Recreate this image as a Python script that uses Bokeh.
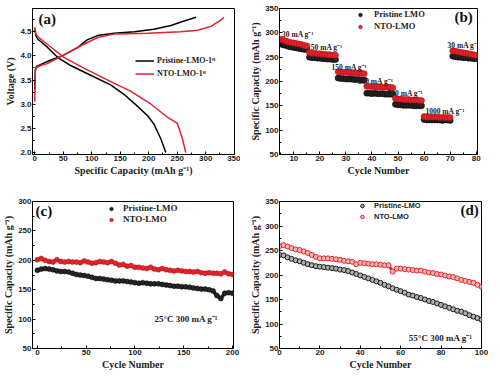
from bokeh.plotting import figure
from bokeh.layouts import column, row
from bokeh.models import (FixedTicker, PrintfTickFormatter, Legend, LegendItem,
                          Label, Range1d)
from bokeh.embed import file_html
from bokeh.resources import INLINE

# ---------------- data ----------------
# (a) first charge / discharge curves
a_pris_chg_cap = [0, 1, 3, 10, 25, 50, 75, 92, 110, 139, 175, 209, 239, 262, 283]
a_pris_chg_v = [3.3, 3.72, 3.78, 3.82, 3.9, 4.01, 4.17, 4.33, 4.42, 4.47, 4.5, 4.55, 4.63, 4.72, 4.8]
a_nto_chg_cap = [0, 1, 3, 10, 22, 51, 81, 110, 139, 198, 256, 286, 309, 324, 332]
a_nto_chg_v = [3.05, 3.7, 3.76, 3.8, 3.84, 4.02, 4.21, 4.38, 4.45, 4.47, 4.5, 4.53, 4.61, 4.72, 4.8]
a_pris_dis_cap = [0, 2, 5, 22, 40, 63, 98, 133, 157, 180, 198, 209, 221, 230]
a_pris_dis_v = [4.55, 4.42, 4.35, 4.18, 3.97, 3.8, 3.6, 3.4, 3.2, 2.96, 2.76, 2.59, 2.29, 2.0]
a_nto_dis_cap = [0, 2, 5, 22, 51, 87, 128, 168, 204, 233, 250, 259, 265]
a_nto_dis_v = [4.6, 4.45, 4.4, 4.24, 3.97, 3.74, 3.5, 3.27, 3.0, 2.73, 2.61, 2.29, 2.0]

# (b) rate capability
b_cycles = list(range(5, 81))
b_pris = [277, 275, 274, 272, 271, 270, 269, 268, 267, 266, 266,
          250, 249, 249, 248, 248, 247, 247, 246, 246, 245, 245,
          207, 206, 206, 205, 205, 205, 204, 204, 204, 203, 203,
          176, 176, 175, 176, 175, 175, 175, 174, 174, 174, 174,
          153, 152, 152, 151, 151, 151, 151, 150, 150, 150, 150,
          122, 121, 121, 121, 121, 121, 121, 120, 121, 121, 120,
          252, 251, 250, 250, 249, 249, 248, 248, 247, 247]
b_nto = [287, 285, 283, 281, 280, 279, 278, 277, 276, 274, 273,
         259, 258, 258, 257, 257, 256, 256, 255, 255, 254, 254,
         220, 219, 219, 219, 218, 218, 218, 217, 217, 217, 216,
         190, 190, 189, 189, 189, 189, 188, 188, 188, 188, 187,
         165, 164, 164, 163, 163, 163, 162, 162, 162, 161, 161,
         128, 127, 127, 127, 127, 127, 126, 126, 126, 126, 126,
         263, 262, 261, 260, 259, 258, 257, 256, 255, 254]
b_rate_labels = ["30 mA g\u207b\u00b9", "50 mA g\u207b\u00b9", "150 mA g\u207b\u00b9",
                 "300 mA g\u207b\u00b9", "500 mA g\u207b\u00b9", "1000 mA g\u207b\u00b9",
                 "30 mA g\u207b\u00b9"]
b_rate_x = [5.5, 16.5, 24.5, 34.5, 46, 60.5, 69]
b_rate_y = [296, 270, 229, 199, 176, 139, 273]

# (c) cycling at 25 C
c_cycles = list(range(0, 201, 4))
c_pris = [183, 185, 186, 185, 184, 182, 181, 181, 180, 178, 176, 175, 174, 173, 171, 169,
          169, 168, 167, 166, 165, 165, 165, 164, 163, 162, 161, 162, 161, 160, 160, 160,
          159, 158, 157, 156, 156, 155, 155, 154, 153, 152, 151, 151, 150, 148, 140, 135,
          144, 145, 144]
c_nto = [201, 203, 200, 198, 197, 201, 198, 197, 198, 197, 197, 196, 199, 197, 195, 196,
         198, 197, 196, 198, 195, 192, 193, 190, 191, 188, 188, 187, 186, 188, 185, 184,
         186, 184, 183, 182, 183, 182, 181, 181, 180, 181, 179, 178, 179, 178, 178, 177,
         180, 177, 176]

# (d) cycling at elevated temperature
d_cycles = list(range(0, 101, 2))
d_pris = [241, 240, 236, 233, 230, 228, 225, 222, 220, 218, 217, 216, 215, 214, 213, 211,
          210, 208, 205, 202, 199, 196, 193, 190, 187, 184, 180, 177, 173, 170, 167, 164,
          160, 158, 155, 153, 150, 147, 145, 142, 139, 136, 133, 130, 127, 125, 122, 118,
          115, 112, 109]
d_nto = [259, 261, 258, 255, 252, 251, 248, 245, 241, 237, 234, 234, 234, 233, 232, 231,
         229, 228, 227, 222, 225, 224, 223, 222, 222, 221, 220, 220, 207, 213, 213, 212,
         211, 210, 209, 209, 207, 205, 204, 202, 201, 199, 197, 196, 193, 190, 188, 186,
         184, 180, 176]

SERIF = "Liberation Serif"
SANS = "Liberation Sans"
RED = "#e3232b"
CAP_LABEL = "Specific Capacity (mAh g\u207b\u00b9)"


def make_fig(w, h, xr, yr, bl, br, bt, bb, xt, xm, yt, ym, xlabel, ylabel, yfmt=None):
    p = figure(width=w, height=h, x_range=Range1d(*xr), y_range=Range1d(*yr),
               output_backend="svg", toolbar_location=None,
               min_border_left=bl, min_border_right=br,
               min_border_top=bt, min_border_bottom=bb)
    p.outline_line_color = "black"
    p.outline_line_alpha = 1
    p.outline_line_width = 1
    p.xgrid.visible = False
    p.ygrid.visible = False
    p.background_fill_color = "white"
    p.border_fill_color = "white"
    for ax, t, m, lab in ((p.xaxis[0], xt, xm, xlabel), (p.yaxis[0], yt, ym, ylabel)):
        ax.ticker = FixedTicker(ticks=t, minor_ticks=m)
        ax.axis_label = lab
        ax.axis_label_text_font = SERIF
        ax.axis_label_text_font_style = "bold"
        ax.axis_label_text_font_size = "10px"
        ax.axis_label_text_color = "#222"
        ax.axis_label_standoff = 1
        ax.major_label_text_font = SANS
        ax.major_label_text_font_style = "bold"
        ax.major_label_text_font_size = "8px"
        ax.major_label_text_color = "#222"
        ax.major_label_standoff = 1
        ax.major_tick_in = 3
        ax.major_tick_out = 0
        ax.minor_tick_in = 2
        ax.minor_tick_out = 0
        ax.axis_line_color = "black"
        ax.major_tick_line_color = "black"
        ax.minor_tick_line_color = "black"
    if yfmt:
        p.yaxis[0].formatter = PrintfTickFormatter(format=yfmt)
    return p


def add_legend(p, items, loc, font, size, gw, gh, standoff, spacing):
    lg = Legend(items=items, location=loc, label_text_font=font,
                label_text_font_style="bold", label_text_font_size=size,
                label_text_color="#222", glyph_width=gw, glyph_height=gh,
                label_height=gh, label_standoff=standoff, spacing=spacing,
                padding=0, margin=0, border_line_alpha=0, background_fill_alpha=0)
    p.add_layout(lg)


def panel_tag(p, txt, x, y):
    p.add_layout(Label(x=x, y=y, x_units="screen", y_units="screen", text=txt,
                       text_font=SERIF, text_font_style="bold", text_font_size="15px",
                       text_baseline="middle", text_align="left", text_color="#111"))


# ---------------- (a) ----------------
pa = make_fig(240, 185, (-4, 350.5), (1.96, 4.98), 32, 6, 5, 31,
              [0, 50, 100, 150, 200, 250, 300, 350], [25, 75, 125, 175, 225, 275, 325],
              [2.0, 2.5, 3.0, 3.5, 4.0, 4.5], [2.25, 2.75, 3.25, 3.75, 4.25, 4.75],
              CAP_LABEL, "Voltage (V)", yfmt="%.1f")
ra1 = pa.line(a_pris_chg_cap, a_pris_chg_v, line_color="black", line_width=1.5)
pa.line(a_pris_dis_cap, a_pris_dis_v, line_color="black", line_width=1.5)
ra2 = pa.line(a_nto_chg_cap, a_nto_chg_v, line_color=RED, line_width=1.5)
pa.line(a_nto_dis_cap, a_nto_dis_v, line_color=RED, line_width=1.5)
add_legend(pa, [LegendItem(label="Pristine-LMO-1\u02e2\u1d57", renderers=[ra1]),
                LegendItem(label="NTO-LMO-1\u02e2\u1d57", renderers=[ra2])],
           (103, 76), SERIF, "8px", 19, 9, 3, 4)
panel_tag(pa, "(a)", 6, 136)

# ---------------- (b) ----------------
pb = make_fig(248, 185, (4.5, 80.5), (50, 350), 39, 11, 8, 27,
              [10, 20, 30, 40, 50, 60, 70, 80], [5, 15, 25, 35, 45, 55, 65, 75],
              [50, 100, 150, 200, 250, 300, 350], [75, 125, 175, 225, 275, 325],
              "Cycle Number", CAP_LABEL)
rb1 = pb.scatter(b_cycles, b_pris, marker="circle", size=6, fill_color="#262626",
                 line_color="#000", line_width=0.6)
rb2 = pb.scatter(b_cycles, b_nto, marker="circle", size=6, fill_color=RED,
                 line_color="#b01218", line_width=0.6)
pb.text(b_rate_x, b_rate_y, text=b_rate_labels, text_font_size="7.5px",
        text_font="Liberation Serif", text_font_style="bold", text_color="#222",
        text_baseline="middle")
add_legend(pb, [LegendItem(label="Pristine LMO", renderers=[rb1]),
                LegendItem(label="NTO-LMO", renderers=[rb2])],
           (76, 123), SERIF, "8.5px", 10, 9, 9, 2)
panel_tag(pb, "(b)", 175, 138)

# ---------------- (c) ----------------
pc = make_fig(240, 187, (-5, 201), (50, 300), 31, 7, 16, 24,
              [0, 50, 100, 150, 200], [25, 75, 125, 175],
              [50, 100, 150, 200, 250, 300], [75, 125, 175, 225, 275],
              "Cycle Number", CAP_LABEL)
pc.line(c_cycles, c_pris, line_color="#222", line_width=3.5)
pc.line(c_cycles, c_nto, line_color=RED, line_width=3.5)
rc1 = pc.scatter(c_cycles, c_pris, marker="circle", size=5, fill_color="#262626",
                 line_color="#000", line_width=0.5)
rc2 = pc.scatter(c_cycles, c_nto, marker="circle", size=5, fill_color=RED,
                 line_color="#b01218", line_width=0.5)
pc.add_layout(Label(x=120, y=100, text="25\u00b0C 300 mA g\u207b\u00b9", text_font=SERIF,
                    text_font_style="bold", text_font_size="9px", text_color="#222",
                    text_baseline="middle"))
add_legend(pc, [LegendItem(label="Pristine-LMO", renderers=[rc1]),
                LegendItem(label="NTO-LMO", renderers=[rc2])],
           (74, 124), SERIF, "9px", 10, 9, 7, 1)
panel_tag(pc, "(c)", 3, 138)

# ---------------- (d) ----------------
pd_ = make_fig(248, 187, (0, 100), (50, 350), 39, 7, 12, 23,
               [0, 20, 40, 60, 80, 100], [10, 30, 50, 70, 90],
               [50, 100, 150, 200, 250, 300, 350], [75, 125, 175, 225, 275, 325],
               "Cycle Number", CAP_LABEL)
pd_.line(d_cycles, d_pris, line_color="#333", line_width=3)
pd_.line(d_cycles, d_nto, line_color=RED, line_width=3)
rd1 = pd_.scatter(d_cycles, d_pris, marker="circle", size=5, fill_color="#b0b0b0",
                  line_color="#1a1a1a", line_width=1)
rd2 = pd_.scatter(d_cycles, d_nto, marker="circle", size=5, fill_color="#f7b4b4",
                  line_color=RED, line_width=1)
pd_.add_layout(Label(x=64, y=71, text="55\u00b0C 300 mA g\u207b\u00b9", text_font=SERIF,
                     text_font_style="bold", text_font_size="9px", text_color="#222",
                     text_baseline="middle"))
add_legend(pd_, [LegendItem(label="Pristine-LMO", renderers=[rd1]),
                 LegendItem(label="NTO-LMO", renderers=[rd2])],
           (78, 127), SANS, "7.5px", 10, 9, 7, 2)
panel_tag(pd_, "(d)", 181, 139)

layout = column(row(pa, pb), row(pc, pd_))
open("out.html", "w").write(file_html(layout, INLINE))
